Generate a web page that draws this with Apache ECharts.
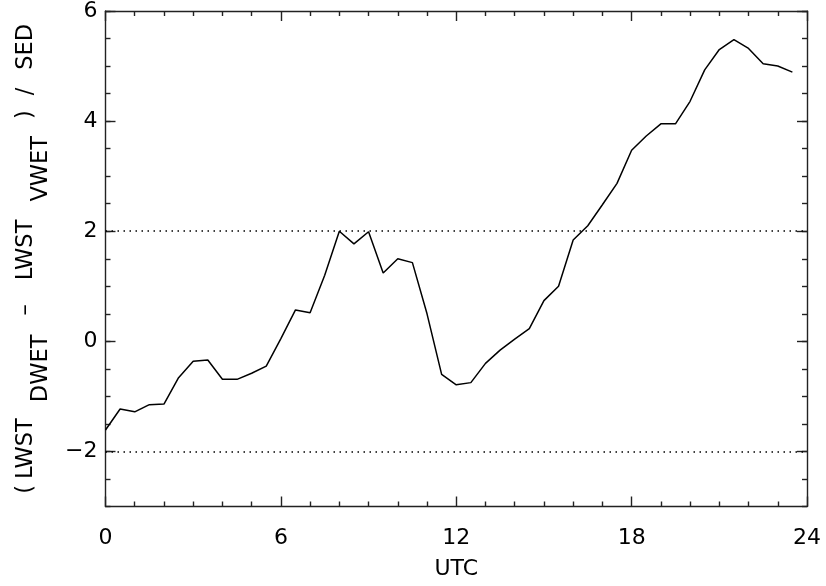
<!DOCTYPE html>
<html><head><meta charset="utf-8">
<script src="https://cdn.jsdelivr.net/npm/echarts@6/dist/echarts.min.js"></script>
<style>html,body{margin:0;padding:0;background:#fff}#c{width:826px;height:586px}</style>
</head><body><div id="c"></div>
<script>
const hours = [0,0.5,1,1.5,2,2.5,3,3.5,4,4.5,5,5.5,6,6.5,7,7.5,8,8.5,9,9.5,10,10.5,11,11.5,
               12,12.5,13,13.5,14,14.5,15,15.5,16,16.5,17,17.5,18,18.5,19,19.5,20,20.5,21,21.5,22,22.5,23,23.5];
const values = [-1.61,-1.23,-1.28,-1.15,-1.14,-0.66,-0.36,-0.34,-0.69,-0.69,-0.58,-0.45,
                0.05,0.57,0.52,1.2,2.0,1.77,1.99,1.24,1.5,1.43,0.5,-0.6,
                -0.79,-0.75,-0.4,-0.16,0.04,0.23,0.74,1.0,1.84,2.1,2.48,2.87,
                3.47,3.73,3.95,3.95,4.36,4.93,5.3,5.48,5.32,5.04,5.0,4.89];
const referenceLines = [2, -2];
const yMajorTicks = [-2, 0, 2, 4, 6];
const xTitle = 'UTC';

const FONT = 'DejaVu Sans';
const AX = {color: '#222', width: 1.4};
const TXT = {color: '#000', fontFamily: FONT};

function xAx(pos, labels) {
  return {
    type: 'value', position: pos, min: 0, max: 24, interval: 6,
    axisLine: {show: true, onZero: false, lineStyle: AX},
    axisTick: {show: true, inside: true, length: 10, lineStyle: AX},
    minorTick: {show: true, splitNumber: 6, length: 5, lineStyle: AX},
    splitLine: {show: false},
    axisLabel: labels ? Object.assign({show: true, fontSize: 22, margin: 21}, TXT) : {show: false},
    name: labels ? xTitle : '',
    nameLocation: 'middle', nameGap: 52,
    nameTextStyle: Object.assign({fontSize: 22}, TXT)
  };
}
function yMinor(pos) {
  return {
    type: 'value', position: pos, min: -3, max: 6, interval: 0.5,
    axisLine: {show: true, onZero: false, lineStyle: AX},
    axisTick: {show: true, inside: true, length: 5, lineStyle: AX},
    splitLine: {show: false}, axisLabel: {show: false}
  };
}
function yMajor(pos, labels) {
  const a = {
    type: 'value', position: pos, min: -3, max: 6,
    axisLine: {show: false, onZero: false},
    axisTick: {show: true, inside: true, length: 10, lineStyle: AX, customValues: yMajorTicks},
    splitLine: {show: false},
    axisLabel: labels ? Object.assign({show: true, fontSize: 22, margin: 8, customValues: yMajorTicks,
      formatter: v => (v < 0 ? '\u2212' : '') + Math.abs(v)}, TXT) : {show: false}
  };
  if (labels) {
    a.name = '{a|(}{p6|LWST}{s18|DWET}{p17|\u2013}{p22|LWST}{s16|VWET}{p15|)}{p13|/}{p16|SED}';
    a.nameLocation = 'middle';
    a.nameRotate = 90;
    a.nameGap = 66;
    const base = {fontSize: 22.5, fontFamily: FONT, color: '#000', lineHeight: 25, verticalAlign: 'top'};
    const pad = (l) => Object.assign({}, base, {padding: [0, 0, 0, l]});
    const sub = (l) => Object.assign({}, base, {padding: [15, 0, 0, l]});
    a.nameTextStyle = {
      rich: {
        a: base, p6: pad(6), p17: pad(19), p22: pad(24), p15: pad(17), p13: pad(15), p16: pad(18),
        s18: sub(16), s16: sub(18)
      }
    };
  }
  return a;
}

const chart = echarts.init(document.getElementById('c'), null, {renderer: 'canvas'});
chart.setOption({
  backgroundColor: '#fff',
  animation: false,
  grid: {left: 105.5, right: 19, top: 10, bottom: 79.5, containLabel: false},
  xAxis: [xAx('bottom', true), xAx('top', false)],
  yAxis: [yMinor('left'), yMajor('left', true), yMinor('right'), yMajor('right', false)],
  series: [{
    type: 'line', xAxisIndex: 0, yAxisIndex: 0,
    data: hours.map((h, i) => [h, values[i]]),
    showSymbol: false, symbol: 'none',
    lineStyle: {color: '#000', width: 1.5},
    markLine: {
      silent: true, symbol: 'none', label: {show: false},
      lineStyle: {color: '#000', width: 1.5, type: [1.5, 4.5]},
      data: referenceLines.map(v => ({yAxis: v}))
    }
  }]
});
</script></body></html>
